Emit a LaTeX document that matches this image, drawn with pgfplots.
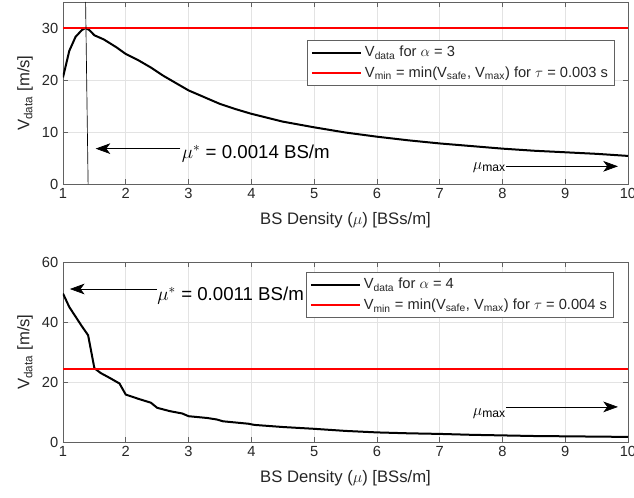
\documentclass[border=0pt]{standalone}
\usepackage{pgfplots}
\pgfplotsset{compat=1.18}
\usepackage{fontspec}
\setmainfont{Liberation Sans}
\usetikzlibrary{arrows.meta}

\definecolor{axgray}{gray}{0.38}
\definecolor{txtgray}{gray}{0.15}

\tikzset{
  arrowann/.style={black, line width=0.5pt,
    -{Stealth[length=11pt, width=8pt, inset=3pt]}},
  datacurve/.style={black, line width=1.5pt},
  minline/.style={red, line width=1.5pt},
}

\pgfplotsset{
  velplot/.style={
    scale only axis,
    width=423.75pt,
    xmin=1, xmax=10,
    xtick={1,2,...,10},
    axis line style={axgray, line width=0.6pt},
    every tick/.style={axgray, line width=0.5pt},
    major tick length=4pt,
    tick align=inside,
    xtick pos=both, ytick pos=both,
    grid=major,
    major grid style={gray!22, line width=0.5pt},
    /pgf/number format/assume math mode=true,
    tick label style={font=\fontsize{11}{13}\selectfont, text=txtgray},
    label style={font=\fontsize{12.5}{14}\selectfont, text=txtgray},
    xlabel style={yshift=-3pt},
    xlabel={BS Density ($\mu$) [BSs/m]},
    ylabel={V\textsubscript{data} [m/s]},
    legend cell align=left,
    legend style={font=\fontsize{11}{13}\selectfont, text=txtgray,
      draw=axgray, inner xsep=3pt, inner ysep=2.5pt,
      row sep=2pt},
    legend image code/.code={\draw[#1] (0pt,0pt) -- (37pt,0pt);},
  },
}

% alpha = 3 : delivered velocity versus BS density (x in units of 1e-3)
\pgfplotstableread{
x     v
1.00  20.5
1.10  25.6
1.20  28.3
1.30  29.6
1.36  30.0
1.42  29.6
1.50  28.6
1.65  27.8
1.85  26.3
2.00  25.0
2.20  23.8
2.40  22.4
2.60  20.8
2.80  19.4
3.00  18.0
3.25  16.7
3.50  15.4
3.75  14.4
4.00  13.5
4.50  12.0
5.00  10.9
5.50  9.9
6.00  9.1
6.50  8.4
7.00  7.8
7.50  7.3
8.00  6.8
8.50  6.4
9.00  6.1
9.50  5.8
10.00 5.4
}\alphathree

% alpha = 4
\pgfplotstableread{
x     v
1.00  49.5
1.10  45.0
1.20  41.8
1.30  38.6
1.40  35.6
1.50  24.6
1.60  23.0
1.75  21.3
1.90  19.5
2.00  15.8
2.20  14.4
2.40  13.1
2.50  11.4
2.70  10.3
2.90  9.5
3.00  8.6
3.30  8.0
3.45  7.5
3.55  6.9
3.95  6.1
4.05  5.7
4.50  5.0
5.00  4.4
5.50  3.7
6.00  3.2
6.50  2.9
7.00  2.7
7.50  2.4
8.00  2.2
8.50  2.0
9.00  1.9
9.50  1.8
10.00 1.7
}\alphafour

\begin{document}
\begin{tikzpicture}
% upper panel
\begin{axis}[velplot, at={(0pt,193.5pt)}, height=136.5pt,
    ymin=0, ymax=35, ytick={0,10,20,30},
    legend style={at={(0.977,0.791)}, anchor=north east}]
  \addlegendimage{datacurve}
  \addlegendentry{V\textsubscript{data} for $\alpha$ = 3}
  \addlegendimage{minline}
  \addlegendentry{V\textsubscript{min} = min(V\textsubscript{safe}, V\textsubscript{max}) for $\tau$ = 0.003 s}
  \addplot[datacurve, forget plot] table[x=x, y=v] {\alphathree};
  \addplot[minline, forget plot] coordinates {(1,30) (10,30)};
  % marker line through the optimum density
  \draw[black, line width=0.5pt] (axis cs:1.36,35) -- (axis cs:1.40,0);
  \draw[arrowann] (axis cs:2.87,6.8) -- (axis cs:1.52,6.8);
  \node[anchor=base west, inner sep=0pt, font=\fontsize{14}{16}\selectfont, text=black]
    at (axis cs:2.89,4.9) {$\mu^*$ = 0.0014 BS/m};
  \draw[arrowann] (axis cs:8.06,3.4) -- (axis cs:9.84,3.4);
  \node[anchor=base east, inner sep=0pt, font=\fontsize{13}{15}\selectfont, text=black]
    at (axis cs:8.06,2.8) {$\mu$\textsubscript{max}};
  \node[anchor=base east, inner sep=0pt, font=\fontsize{11}{13}\selectfont, text=txtgray]
    at ([yshift=-36pt]rel axis cs:1,0) {$\times$10\textsuperscript{-3}};
\end{axis}
% lower panel
\begin{axis}[velplot, at={(0pt,0pt)}, height=135pt,
    ymin=0, ymax=60, ytick={0,20,40,60},
    legend style={at={(0.975,0.944)}, anchor=north east}]
  \addlegendimage{datacurve}
  \addlegendentry{V\textsubscript{data} for $\alpha$ = 4}
  \addlegendimage{minline}
  \addlegendentry{V\textsubscript{min} = min(V\textsubscript{safe}, V\textsubscript{max}) for $\tau$ = 0.004 s}
  \addplot[datacurve, forget plot] table[x=x, y=v] {\alphafour};
  \addplot[minline, forget plot] coordinates {(1,24.5) (10,24.5)};
  \draw[arrowann] (axis cs:2.49,51.0) -- (axis cs:1.11,51.0);
  \node[anchor=base west, inner sep=0pt, font=\fontsize{14}{16}\selectfont, text=black]
    at (axis cs:2.50,47.1) {$\mu^*$ = 0.0011 BS/m};
  \draw[arrowann] (axis cs:8.06,11.7) -- (axis cs:9.84,11.7);
  \node[anchor=base east, inner sep=0pt, font=\fontsize{13}{15}\selectfont, text=black]
    at (axis cs:8.06,9.0) {$\mu$\textsubscript{max}};
  \node[anchor=base east, inner sep=0pt, font=\fontsize{11}{13}\selectfont, text=txtgray]
    at ([yshift=-37pt]rel axis cs:1,0) {$\times$10\textsuperscript{-3}};
\end{axis}
\pgfresetboundingbox
\path (-47.25pt,-41.25pt) rectangle (428.25pt,331.5pt);
\end{tikzpicture}
\end{document}
